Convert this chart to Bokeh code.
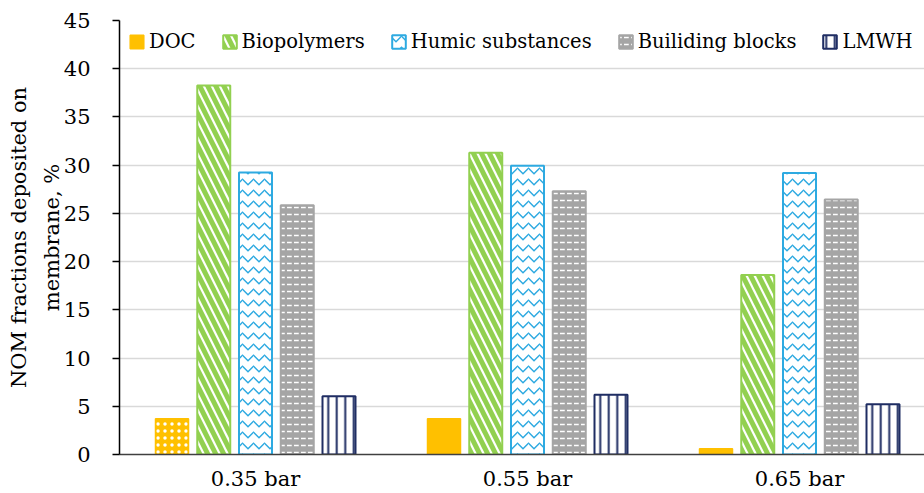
from bokeh.plotting import figure
from bokeh.models import ColumnDataSource, FixedTicker, Legend, LegendItem, Range1d, LinearAxis
from bokeh.embed import file_html
from bokeh.resources import INLINE

# Transmembrane pressures (categories) and NOM fractions deposited on the membrane, %
pressures = ["0.35 bar", "0.55 bar", "0.65 bar"]
doc = [3.7, 3.7, 0.6]
biopolymers = [38.25, 31.3, 18.6]
humic = [29.25, 29.95, 29.2]
building_blocks = [25.85, 27.3, 26.45]
lmwh = [6.05, 6.2, 5.2]
y_ticks = [0, 5, 10, 15, 20, 25, 30, 35, 40, 45]
y_title = ["NOM fractions deposited on", "membrane, %"]

FONT = "DejaVu Serif"
FS = "21px"
LEGEND_FS = "19.5px"

W, H = 924, 493
LEFT, TOP, BOTTOM = 119, 20, 39
GROUP = 272.0  # px per category

frame_w = W - LEFT
YMAX = 45.0
p = figure(width=W, height=H, output_backend="svg", toolbar_location=None,
           x_range=Range1d(0, frame_w / GROUP), y_range=Range1d(0, YMAX),
           min_border_left=LEFT, min_border_top=TOP, min_border_bottom=BOTTOM,
           min_border_right=0)
p.outline_line_color = None
p.background_fill_color = "white"
p.border_fill_color = "white"

centers = [i + 0.5 for i in range(len(pressures))]
pitch = 41.75 / GROUP
bar_w = 33.0 / GROUP

series = [
    ("DOC", doc, dict(fill_color="#FFC000", line_color="#FFC000", line_width=1.5,
                      hatch_pattern="hatch", hatch_color="white", hatch_scale=7, hatch_weight=2)),
    ("Biopolymers", biopolymers, dict(fill_color="white", line_color="#92D050", line_width=2,
                                      hatch_pattern="left_diagonal_line", hatch_color="#92D050",
                                      hatch_scale=16, hatch_weight=5)),
    ("Humic substances", humic, dict(fill_color="white", line_color="#2EAAE1", line_width=2,
                                     hatch_pattern="horizontal_wave", hatch_color="#2EAAE1",
                                     hatch_scale=11, hatch_weight=1.5)),
    ("Builiding blocks", building_blocks, dict(fill_color="#A5A5A5", line_color="#A5A5A5", line_width=2,
                                               hatch_pattern="horizontal_dash", hatch_color="white",
                                               hatch_scale=7, hatch_weight=1.5)),
    ("LMWH", lmwh, dict(fill_color="white", line_color="#1F2D63", line_width=2,
                        hatch_pattern="vertical_line", hatch_color="#1F2D63",
                        hatch_scale=8.5, hatch_weight=2)),
]

items = []
for k, (name, vals, style) in enumerate(series):
    xs = [c + (k - 2) * pitch for c in centers]
    data = dict(x=xs, top=vals)
    if name == "DOC":
        # only the first pressure's DOC bar carries the dotted fill
        data["hatch"] = ["dot", " ", " "]
    src = ColumnDataSource(data)
    r = p.vbar(x="x", top="top", bottom=0, width=bar_w, source=src, **style)
    items.append(LegendItem(label=name, renderers=[r], index=1 if name == "DOC" else 0))

legend = Legend(items=items, orientation="horizontal", location=(9, 401),
                label_text_font=FONT, label_text_font_size=LEGEND_FS, label_text_color="black",
                glyph_width=17, glyph_height=17, label_standoff=4, spacing=25,
                padding=0, margin=0, border_line_color=None, background_fill_alpha=0,
                label_height=17)
p.add_layout(legend)

# category axis
p.xaxis.ticker = FixedTicker(ticks=centers)
p.xaxis.major_label_overrides = {c: lab for c, lab in zip(centers, pressures)}
p.xaxis.major_tick_out = 0
p.xaxis.major_tick_in = 0
p.xaxis.minor_tick_out = 0
p.xaxis.minor_tick_in = 0
p.xaxis.axis_line_color = "#404040"
p.xaxis.axis_line_width = 1.5
p.xaxis.major_label_standoff = 12
p.xaxis.major_label_text_font = FONT
p.xaxis.major_label_text_font_size = FS
p.xaxis.major_label_text_color = "black"

# value axis, carrying the inner line of the title
p.yaxis.ticker = FixedTicker(ticks=y_ticks)
p.yaxis.axis_line_color = "black"
p.yaxis.axis_line_width = 1.5
p.yaxis.major_tick_line_color = "black"
p.yaxis.major_tick_line_width = 1.5
p.yaxis.major_tick_out = 7
p.yaxis.major_tick_in = 0
p.yaxis.minor_tick_out = 0
p.yaxis.minor_tick_in = 0
p.yaxis.major_label_standoff = 22
p.yaxis.major_label_text_font = FONT
p.yaxis.major_label_text_font_size = FS
p.yaxis.major_label_text_color = "black"
p.yaxis.axis_label = y_title[1]
p.yaxis.axis_label_text_font = FONT
p.yaxis.axis_label_text_font_size = FS
p.yaxis.axis_label_text_font_style = "normal"
p.yaxis.axis_label_text_color = "black"
p.yaxis.axis_label_standoff = -3

# outer line of the title on a bare axis stacked further left
outer = LinearAxis(ticker=FixedTicker(ticks=[]), axis_line_color=None,
                   major_tick_out=0, major_tick_in=0, minor_tick_out=0, minor_tick_in=0,
                   major_label_text_alpha=0, major_label_standoff=0,
                   axis_label=y_title[0], axis_label_text_font=FONT,
                   axis_label_text_font_size=FS, axis_label_text_font_style="normal",
                   axis_label_text_color="black", axis_label_standoff=6)
p.add_layout(outer, "left")

p.xgrid.grid_line_color = None
p.ygrid.ticker = FixedTicker(ticks=y_ticks[1:])
p.ygrid.grid_line_color = "#D9D9D9"
p.ygrid.grid_line_width = 1.5

open("out.html", "w").write(file_html(p, INLINE))
